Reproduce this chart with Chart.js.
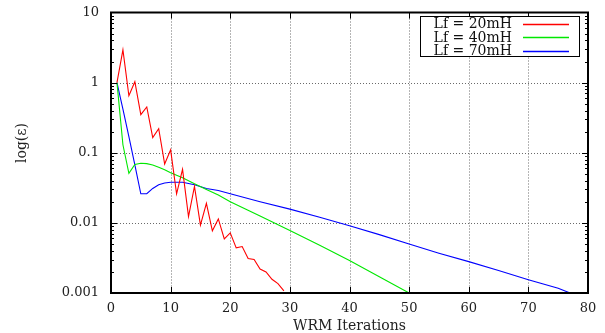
<!DOCTYPE html>
<html>
<head>
<meta charset="utf-8">
<script src="https://cdn.jsdelivr.net/npm/chart.js@4"></script>
<style>
html,body{margin:0;padding:0;background:#fff;}
#wrap{width:605px;height:333px;position:relative;}
</style>
</head>
<body>
<div id="wrap"><canvas id="c" width="605" height="333"></canvas></div>
<script>
// ---- data ----
const seriesLabels = ['Lf = 20mH', 'Lf = 40mH', 'Lf = 70mH'];
const seriesColors = ['#ff0000', '#00e800', '#0000ff'];

const xRed = [1,2,3,4,5,6,7,8,9,10,11,12,13,14,15,16,17,18,19,20,21,22,23,24,25,26,27,28,29];
const yRed = [1,2.93,0.65,1.03,0.35,0.45,0.165,0.22,0.069,0.11,0.026,0.058,0.0123,0.033,0.0093,0.019,0.0077,0.0114,0.0059,0.0072,0.0044,0.0046,0.0031,0.0030,0.0022,0.0020,0.00157,0.00136,0.00107];

const xGreen = [1,2,3,4,5,6,7,8,9,10,12,14,16,18,20,25,30,35,40,45,50];
const yGreen = [1,0.13,0.051,0.068,0.071,0.070,0.067,0.062,0.057,0.052,0.044,0.036,0.030,0.025,0.020,0.0125,0.0078,0.0048,0.0029,0.0017,0.001];

const xBlue = [1,2,3,4,5,6,7,8,9,10,12,14,16,18,20,25,30,35,40,45,50,55,60,65,70,75,77];
const yBlue = [1,0.42,0.17,0.067,0.026,0.026,0.031,0.035,0.037,0.038,0.038,0.035,0.031,0.029,0.026,0.020,0.0157,0.012,0.0091,0.0068,0.0050,0.0037,0.0028,0.0021,0.00155,0.00117,0.001];

const xTicks = [0,10,20,30,40,50,60,70,80];
const yTicks = [0.001,0.01,0.1,1,10];
const yTickLabels = ['0.001','0.01','0.1','1','10'];
const xTitle = 'WRM Iterations';
const yTitle = 'log(\u03b5)';

// ---- build ----
const pairs = (xs, ys) => xs.map((x, i) => ({x: x, y: ys[i]}));
const FONT = 'DejaVu Serif';

const gridPlugin = {
  id: 'dotgrid',
  beforeDatasetsDraw(chart) {
    const {ctx, chartArea: {left, right, top, bottom}, scales: {x, y}} = chart;
    ctx.save();
    ctx.strokeStyle = '#6a6a6a';
    ctx.lineWidth = 1;
    ctx.setLineDash([1, 2]);
    ctx.beginPath();
    xTicks.forEach(v => {
      const px = Math.round(x.getPixelForValue(v)) + 0.5;
      if (px > left + 2 && px < right - 2) { ctx.moveTo(px, top); ctx.lineTo(px, bottom); }
    });
    yTicks.forEach(v => {
      const py = Math.round(y.getPixelForValue(v)) + 0.5;
      if (py > top + 2 && py < bottom - 2) { ctx.moveTo(left, py); ctx.lineTo(right, py); }
    });
    ctx.stroke();
    ctx.restore();
  }
};

const framePlugin = {
  id: 'frame',
  afterDraw(chart) {
    const {ctx, chartArea: {left, right, top, bottom}, scales: {x, y}} = chart;
    ctx.save();
    ctx.strokeStyle = '#000';
    ctx.lineWidth = 1;
    ctx.beginPath();
    xTicks.forEach(v => {
      const px = Math.round(x.getPixelForValue(v)) + 0.5;
      ctx.moveTo(px, bottom); ctx.lineTo(px, bottom - 6);
      ctx.moveTo(px, top); ctx.lineTo(px, top + 6);
    });
    for (let d = -3; d <= 0; d++) {
      for (let k = 1; k <= 9; k++) {
        const v = k * Math.pow(10, d);
        const py = Math.round(y.getPixelForValue(v)) + 0.5;
        const len = k === 1 ? 6 : 3;
        ctx.moveTo(left, py); ctx.lineTo(left + len, py);
        ctx.moveTo(right, py); ctx.lineTo(right - len, py);
      }
    }
    ctx.stroke();
    ctx.lineWidth = 2;
    ctx.strokeRect(left, top, right - left, bottom - top);

    // y title
    ctx.save();
    ctx.translate(22, 143);
    ctx.rotate(-Math.PI / 2);
    ctx.font = '14px "' + FONT + '"';
    ctx.fillStyle = '#222';
    ctx.textAlign = 'center';
    ctx.textBaseline = 'middle';
    ctx.fillText(yTitle, 0, 0);
    ctx.restore();

    // legend
    const bx = 420.5, by = 16.5, bw = 159, bh = 40;
    ctx.fillStyle = '#fff';
    ctx.fillRect(bx, by, bw, bh);
    ctx.lineWidth = 1;
    ctx.strokeStyle = '#000';
    ctx.strokeRect(bx, by, bw, bh);
    ctx.font = '14px "' + FONT + '"';
    ctx.textAlign = 'right';
    ctx.textBaseline = 'middle';
    chart.data.datasets.forEach((ds, i) => {
      const cy = 23.5 + i * 13.6;
      ctx.fillStyle = '#111';
      ctx.fillText(ds.label, 512, cy + 1);
      ctx.strokeStyle = ds.borderColor;
      ctx.lineWidth = 1.5;
      ctx.beginPath();
      ctx.moveTo(523, Math.round(cy) + 0.5);
      ctx.lineTo(569, Math.round(cy) + 0.5);
      ctx.stroke();
    });
    ctx.restore();
  }
};

new Chart(document.getElementById('c'), {
  type: 'line',
  data: {
    datasets: [
      {label: seriesLabels[0], data: pairs(xRed, yRed), borderColor: seriesColors[0]},
      {label: seriesLabels[1], data: pairs(xGreen, yGreen), borderColor: seriesColors[1]},
      {label: seriesLabels[2], data: pairs(xBlue, yBlue), borderColor: seriesColors[2]}
    ].map(d => Object.assign(d, {borderWidth: 1.1, pointRadius: 0, tension: 0, fill: false}))
  },
  options: {
    responsive: false,
    animation: false,
    layout: {padding: {left: 0, top: 12.5, right: 17, bottom: 0}},
    plugins: {legend: {display: false}, tooltip: {enabled: false}},
    scales: {
      x: {
        type: 'linear', min: 0, max: 80,
        afterBuildTicks: s => { s.ticks = xTicks.map(v => ({value: v})); },
        afterFit: s => { s.height = 40; s.paddingLeft = 0; s.paddingRight = 0; },
        grid: {display: false, drawTicks: false},
        border: {display: false},
        ticks: {color: '#222', padding: 8, maxRotation: 0, font: {family: FONT, size: 13}},
        title: {display: true, text: xTitle, color: '#222', font: {family: FONT, size: 14}, padding: {top: 0, bottom: -2}}
      },
      y: {
        type: 'logarithmic', min: 0.001, max: 10,
        afterBuildTicks: s => { s.ticks = yTicks.map(v => ({value: v})); },
        afterFit: s => { s.width = 111; s.paddingTop = 0; s.paddingBottom = 0; },
        grid: {display: false, drawTicks: false},
        border: {display: false},
        ticks: {color: '#222', padding: 12, font: {family: FONT, size: 13},
          callback: (v) => { const i = yTicks.findIndex(t => Math.abs(t - v) / t < 1e-6); return i >= 0 ? yTickLabels[i] : ''; }},
        title: {display: false}
      }
    }
  },
  plugins: [gridPlugin, framePlugin]
});
</script>
</body>
</html>
